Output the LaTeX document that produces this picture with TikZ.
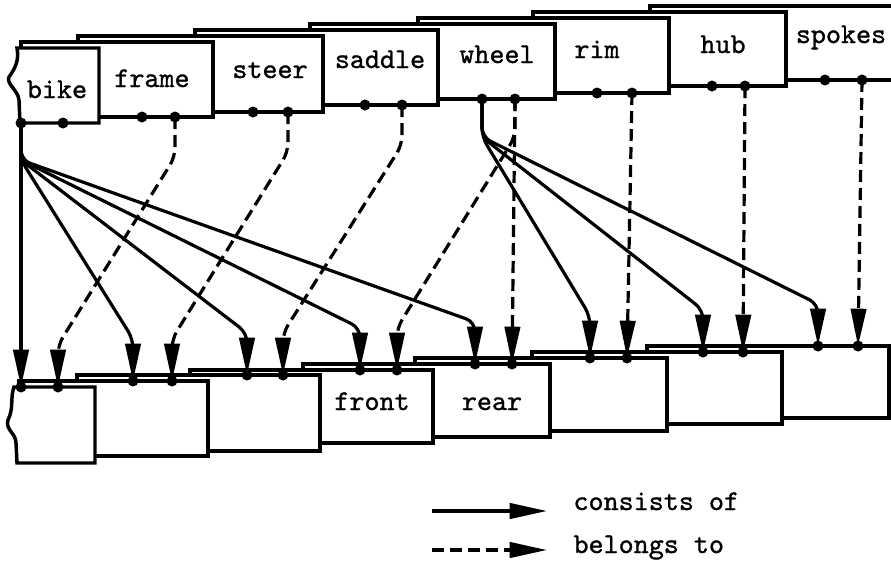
\documentclass[tikz,border=0pt]{standalone}
\usepackage{fontspec}
\usetikzlibrary{arrows.meta,calc}

\newfontfamily\typew{lmmono10-regular.otf}[FakeBold=1.0]
\tikzset{every picture/.style={line width=0.75pt}}
\tikzset{
	card/.style={line width=2.6pt, fill=white},
	cardtext/.style={font=\typew\fontsize{21.5}{24}\selectfont, inner sep=0pt, anchor=base},
	cons/.style={line width=2.4pt, rounded corners=7pt, -{Triangle[length=28pt,width=11.5pt]}},
	belongs/.style={cons, dash pattern=on 9pt off 4.5pt}
}

\begin{document}
\begin{tikzpicture}[x=0.75pt,y=0.75pt,yscale=-1,xscale=1]
	\clip (0,0) rectangle (891,572);

	% Cards, upper row (back to front)
	\foreach \l/\r/\t/\b in {650/902/6/80, 533/786/12/86, 418/669/18/93, 310/555/24/99, 195/438/30/105, 78/323/36/112, 21/213/42/117}
		\draw [card] (\l,\t) rectangle (\r,\b);
	\draw [card] (99,48) -- (17,48) .. controls (19,60) and (16,67) .. (9,77) .. controls (6,84) and (18,90) .. (19,100) -- (20,123) -- (99,123) -- cycle;

	% Cards, lower row (back to front)
	\foreach \l/\r/\t/\b in {647/889/346/418, 532/782/352/424, 415/667/358/431, 303/550/364/437, 190/433/370/443, 77/320/375/451, 19/208/381/456}
		\draw [card] (\l,\t) rectangle (\r,\b);
	\draw [card] (95,387) -- (14,387) .. controls (10,398) and (14,408) .. (8,420) .. controls (5,430) and (16,433) .. (16,443) -- (17,463) -- (95,463) -- cycle;

	% Text Node
	\node [cardtext] (bike) at (57,98) {bike};
	\node [cardtext] (frame) at (152,87) {frame};
	\node [cardtext] (steer) at (270,78) {steer};
	\node [cardtext] (saddle) at (380,68) {saddle};
	\node [cardtext] (wheel) at (497,63) {wheel};
	\node [cardtext] (rim) at (597,58) {rim};
	\node [cardtext] (hub) at (723,53) {hub};
	\node [cardtext] (spokes) at (841,43) {spokes};
	\node [cardtext] (front) at (372,410) {front};
	\node [cardtext] (rear) at (492,410) {rear};

	% Pointer fields
	\coordinate (bikeC) at (21,123);   \coordinate (bikeB) at (63,123);
	\coordinate (frameC) at (142,117); \coordinate (frameB) at (175,117);
	\coordinate (steerC) at (253,112); \coordinate (steerB) at (288,112);
	\coordinate (saddleC) at (365,105);\coordinate (saddleB) at (402,105);
	\coordinate (wheelC) at (482,99);  \coordinate (wheelB) at (515,99);
	\coordinate (rimC) at (597,93);    \coordinate (rimB) at (632,93);
	\coordinate (hubC) at (712,86);    \coordinate (hubB) at (745,86);
	\coordinate (spokesC) at (825,80); \coordinate (spokesB) at (862,80);
	\foreach \n/\c/\b/\y in {0/21/58/387, 1/133/172/381, 2/247/283/375, 3/360/397/370, 4/475/512/364, 5/590/627/358, 6/703/743/352, 7/818/858/346} {
		\coordinate (lowc\n) at (\c,\y);
		\coordinate (lowb\n) at (\b,\y);
	}
	\coordinate (bikeJ) at (21,160);
	\coordinate (wheelJ) at (482,137);

	% Connection: consists of
	\draw [cons] (bikeC) -- (lowc0);
	\foreach \n in {1,...,4}
		\draw [cons] (bikeC) -- (bikeJ) -- ($(lowc\n)+(0,-42)$) -- (lowc\n);
	\foreach \n in {5,6,7}
		\draw [cons] (wheelC) -- (wheelJ) -- ($(lowc\n)+(0,-42)$) -- (lowc\n);

	% Connection: belongs to
	\foreach \p/\n in {frame/0, steer/1, saddle/2}
		\draw [belongs] (\p B) -- ++(0,40) -- ($(lowb\n)+(0,-42)$) -- (lowb\n);
	\draw [belongs] (wheelB) -- ++(0,38) -- ($(lowb3)+(0,-42)$) -- (lowb3);
	\draw [belongs] (wheelB) -- (lowb4);
	\draw [belongs] (rimB) -- (lowb5);
	\draw [belongs] (hubB) -- (lowb6);
	\draw [belongs] (spokesB) -- (lowb7);

	% Pointer dots
	\foreach \p in {bikeC,bikeB,frameC,frameB,steerC,steerB,saddleC,saddleB,wheelC,wheelB,rimC,rimB,hubC,hubB,spokesC,spokesB}
		\fill (\p) circle [radius=5.5];
	\foreach \n in {0,...,7} {
		\fill (lowc\n) circle [radius=5.5];
		\fill (lowb\n) circle [radius=5.5];
	}

	% Legend
	\coordinate (keyA) at (432,511); \coordinate (keyB) at (547,511);
	\coordinate (keyC) at (432,550); \coordinate (keyD) at (547,550);
	\draw [cons] (keyA) -- (keyB);
	\draw [belongs] (keyC) -- (keyD);
	\node [cardtext, anchor=base west] (keyCons) at (573,510) {consists of};
	\node [cardtext, anchor=base west] (keyBel) at (573,553) {belongs to};

\end{tikzpicture}
\end{document}
